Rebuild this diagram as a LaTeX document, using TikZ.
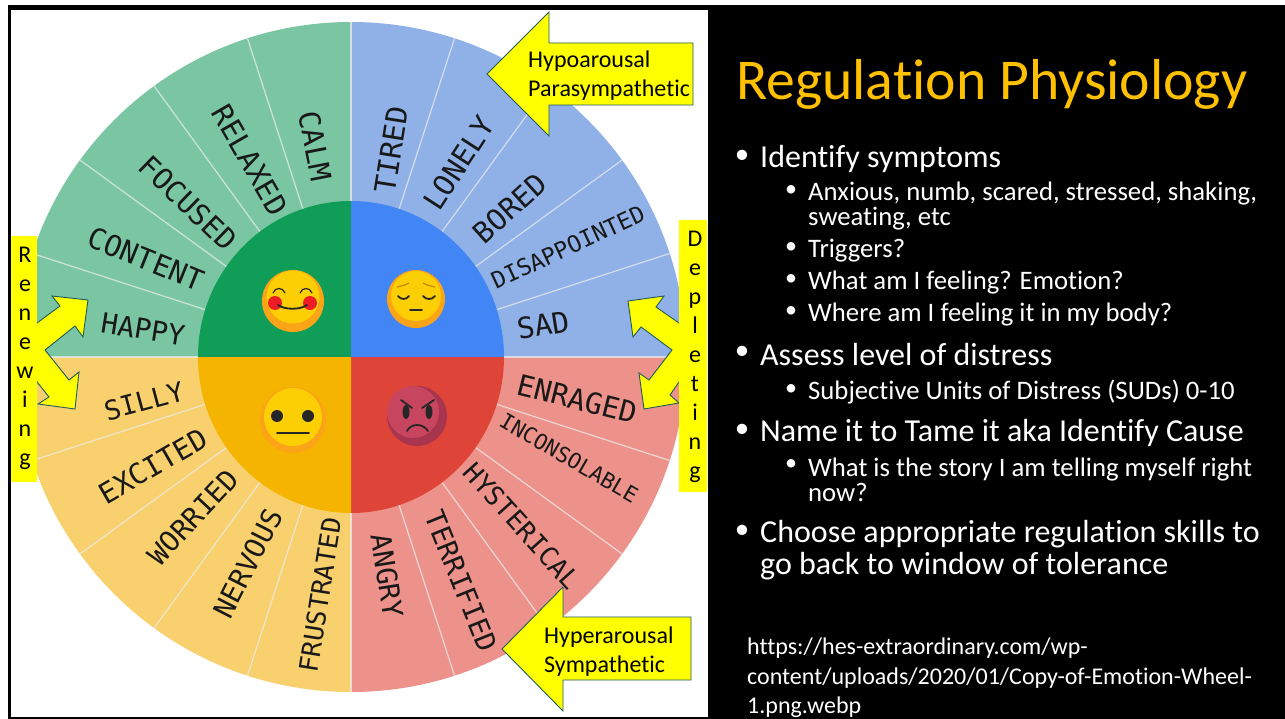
\documentclass[tikz,border=0pt]{standalone}
\usepackage{fontspec}
\usetikzlibrary{calc}
\setmainfont[Ligatures=NoCommon]{Carlito}
\newfontfamily\wheelfont{DejaVu Sans Mono}
\definecolor{gOut}{HTML}{7AC6A3}
\definecolor{gIn}{HTML}{109D58}
\definecolor{bOut}{HTML}{8FB1E8}
\definecolor{bIn}{HTML}{4285F4}
\definecolor{rOut}{HTML}{EC928A}
\definecolor{rIn}{HTML}{DE4437}
\definecolor{yOut}{HTML}{F8D06E}
\definecolor{yIn}{HTML}{F5B400}
\definecolor{faceY}{HTML}{FBCF04}
\definecolor{faceO}{HTML}{FBA417}
\definecolor{angryD}{HTML}{A8344D}
\definecolor{angryL}{HTML}{C8455F}
\definecolor{cheek}{HTML}{EE1C25}
\definecolor{arrowline}{HTML}{1F5C5C}
\definecolor{titleorange}{HTML}{FFC000}
\definecolor{callY}{rgb}{1,1,0}
\tikzset{
  wl/.style={font=\wheelfont\fontsize{#1}{#1}\selectfont,inner sep=0pt,text=black!90},
  spoke/.style={draw=white!85!gray,line width=1.2pt,opacity=.75},
  callout/.style={fill=callY,draw=arrowline,line width=.9pt,line join=miter},
  vbar/.style={inner sep=0pt,font=\fontsize{24}{29}\selectfont,align=center,anchor=center},
  calltext/.style={font=\fontsize{24}{29}\selectfont,align=left,anchor=west,inner sep=0pt},
  head/.style={text=white,font=\fontsize{32}{32}\selectfont,anchor=west,inner sep=0pt,align=left},
  sub/.style={text=white,font=\fontsize{26.7}{25.5}\selectfont,anchor=west,inner sep=0pt,align=left},
  src/.style={text=white,font=\fontsize{24}{29.5}\selectfont,anchor=north west,inner sep=0pt,align=left},
  ttl/.style={text=titleorange,font=\fontsize{57.7}{60}\selectfont,anchor=west,inner sep=0pt},
  dotb/.style={text=white,font=\fontsize{24}{26}\selectfont,inner sep=0pt},
  eyeline/.style={line width=1.8pt,line cap=round,draw=black!85}
}
\begin{document}
\begin{tikzpicture}[x=1pt,y=-1pt]
\useasboundingbox (0,0) rectangle (1285,719);
\fill[white] (0,0) rectangle (1285,719);
\fill[black] (8,5) rectangle (1285,719);
\fill[white] (11,10) rectangle (708,717);
\coordinate (c) at (351,357);
% wheel sectors
\fill[gOut] (c) -- (351,22) arc[start angle=90,end angle=180,radius=335pt] -- cycle;
\fill[bOut] (c) -- (351,22) arc[start angle=90,end angle=0,radius=335pt] -- cycle;
\fill[rOut] (c) -- (686,357) arc[start angle=0,end angle=-90,radius=335pt] -- cycle;
\fill[yOut] (c) -- (351,692) arc[start angle=270,end angle=180,radius=335pt] -- cycle;
\foreach \a in {18,36,54,72,108,126,144,162,198,216,234,252,288,306,324,342}
  \draw[spoke] ($(c)+(\a:150pt)$) -- ($(c)+(\a:335pt)$);
\foreach \a in {0,90,180,270}
  \draw[spoke] (c) -- ($(c)+(\a:335pt)$);
\fill[gIn] (c) -- (351,201) arc[start angle=90,end angle=180,x radius=153pt,y radius=156pt] -- cycle;
\fill[bIn] (c) -- (351,201) arc[start angle=90,end angle=0,x radius=153pt,y radius=156pt] -- cycle;
\fill[rIn] (c) -- (504,357) arc[start angle=0,end angle=-90,x radius=153pt,y radius=156pt] -- cycle;
\fill[yIn] (c) -- (351,513) arc[start angle=270,end angle=180,x radius=153pt,y radius=156pt] -- cycle;
% labels
\node[wl=29,rotate=-79] (calm) at (315,146) {CALM};
\node[wl=29,rotate=-60] (relaxed) at (250,160) {RELAXED};
\node[wl=29,rotate=-44] (focused) at (188,203) {FOCUSED};
\node[wl=29,rotate=-22] (content) at (146,259) {CONTENT};
\node[wl=28,rotate=-9] (happy) at (143,329) {HAPPY};
\node[wl=29,rotate=81] (tired) at (391,150) {TIRED};
\node[wl=29,rotate=57] (lonely) at (459,163) {LONELY};
\node[wl=29,rotate=42] (bored) at (510,208) {BORED};
\node[wl=23,rotate=25] (disap) at (568,247) {DISAPPOINTED};
\node[wl=29,rotate=9] (sad) at (543,325) {SAD};
\node[wl=29,rotate=-14] (enraged) at (577,399) {ENRAGED};
\node[wl=21.5,rotate=-30] (incons) at (569,458) {INCONSOLABLE};
\node[wl=26.5,rotate=-48] (hyst) at (522,526) {HYSTERICAL};
\node[wl=27.5,rotate=-68] (terr) at (461,581) {TERRIFIED};
\node[wl=28,rotate=-81] (angry) at (387,576) {ANGRY};
\node[wl=27,rotate=15] (silly) at (144,401) {SILLY};
\node[wl=28.5,rotate=30] (excited) at (153,466) {EXCITED};
\node[wl=28,rotate=47] (worried) at (193,517) {WORRIED};
\node[wl=28,rotate=63] (nervous) at (248,563) {NERVOUS};
\node[wl=26,rotate=81] (frustr) at (320,595) {FRUSTRATED};
% faces
\fill[faceO] (293,301) circle[radius=31pt];
\fill[faceY] (293,297) circle[radius=26.5pt];
\fill[cheek] (275,303) circle[radius=7pt];
\fill[cheek] (310,303) circle[radius=7pt];
\draw[eyeline] (278,305) .. controls (285,310) and (300,310) .. (307,305);
\draw[eyeline,line width=1.2pt] (273,293) .. controls (275,287) and (283,287) .. (285,293);
\draw[eyeline,line width=1.2pt] (300,293) .. controls (302,287) and (310,287) .. (312,293);
\fill[faceO] (416,299) circle[radius=29pt];
\fill[faceY] (416,296) circle[radius=25pt];
\draw[eyeline] (398,296) .. controls (401,300) and (406,300) .. (409,296);
\draw[eyeline] (423,296) .. controls (426,300) and (432,300) .. (435,296);
\draw[draw=faceO!80!black,line width=1.2pt] (397,287) .. controls (401,286) and (406,285) .. (409,283);
\draw[draw=faceO!80!black,line width=1.2pt] (423,283) .. controls (426,285) and (431,286) .. (435,287);
\draw[eyeline] (410,310) -- (422,310);
\fill[faceO] (293,420) circle[radius=33pt];
\fill[faceY] (293,417) circle[radius=29pt];
\fill[black!85] (277,416) circle[radius=6pt];
\fill[black!85] (308,416) circle[radius=6pt];
\draw[eyeline] (277,433) -- (309,433);
\fill[angryD] (417,416) circle[radius=30pt];
\fill[angryL] (413,412) circle[radius=26pt];
\fill[black!85] (406,412) ellipse[x radius=3.5pt,y radius=7pt];
\fill[black!85] (429,412) ellipse[x radius=3.5pt,y radius=7pt];
\draw[eyeline] (401,400) -- (412,408);
\draw[eyeline] (434,400) -- (422,408);
\draw[eyeline] (407,431) .. controls (411,423) and (423,423) .. (428,431);
% arrows
\draw[callout] (20,350) -- (37,323) -- (60,306) -- (52,296) -- (88,300) -- (83,337) -- (75,326) -- (45,350) -- (69,380) -- (79,372) -- (75,409) -- (38,404) -- (49,397) -- (37,382) -- cycle;
\draw[callout] (695,350) -- (679,323) -- (656,307) -- (664,296) -- (628,301) -- (633,337) -- (641,327) -- (672,350) -- (649,380) -- (639,373) -- (644,409) -- (679,403) -- (670,395) -- (679,382) -- cycle;
\draw[callout] (487,74) -- (549,12) -- (549,43) -- (693,43) -- (693,105) -- (549,105) -- (549,136) -- cycle;
\draw[callout] (502,649) -- (563,587) -- (563,617) -- (691,617) -- (691,680) -- (563,680) -- (563,711) -- cycle;
\node[calltext] (hypo) at (528,75.5) {Hypoarousal\\Parasympathetic};
\node[calltext] (hyper) at (544,652) {Hyperarousal\\Sympathetic};
% vertical bars
\fill[callY] (11,236) rectangle (37,482);
\fill[callY] (679,220) rectangle (707,492);
\node[vbar] (renew) at (25,358) {R\\e\\n\\e\\w\\i\\n\\g};
\node[vbar] (deplete) at (695,357) {D\\e\\p\\l\\e\\t\\i\\n\\g};
% right panel
\node[ttl] (title) at (736,84) {Regulation Physiology};
\foreach \y/\n in {157/a,353/b,431/c,532/d}
  \node[text=white,font=\fontsize{29}{30}\selectfont,inner sep=0pt] (hb\n) at (742,\y) {•};
\foreach \y/\n in {191/a,248/b,280/c,312/d,390/e,465/f}
  \node[dotb] (sb\n) at (791,\y) {•};
\node[head] (h1) at (760,158.5) {Identify symptoms};
\node[sub] (s1) at (808,206) {Anxious, numb, scared, stressed, shaking,\\sweating, etc};
\node[sub] (s2) at (808,251) {Triggers?};
\node[sub] (s3) at (808,283) {What am I feeling? Emotion?};
\node[sub] (s4) at (808,315) {Where am I feeling it in my body?};
\node[head] (h2) at (760,354.5) {Assess level of distress};
\node[sub] (s5) at (808,392) {Subjective Units of Distress (SUDs) 0-10};
\node[head] (h3) at (760,433) {Name it to Tame it aka Identify Cause};
\node[sub] (s6) at (808,480) {What is the story I am telling myself right\\now?};
\node[head] (h4) at (760,550.5) {Choose appropriate regulation skills to\\go back to window of tolerance};
\node[src] (url) at (747,638) {https://hes-extraordinary.com/wp-\\content/uploads/2020/01/Copy-of-Emotion-Wheel-\\1.png.webp};
\end{tikzpicture}
\end{document}
